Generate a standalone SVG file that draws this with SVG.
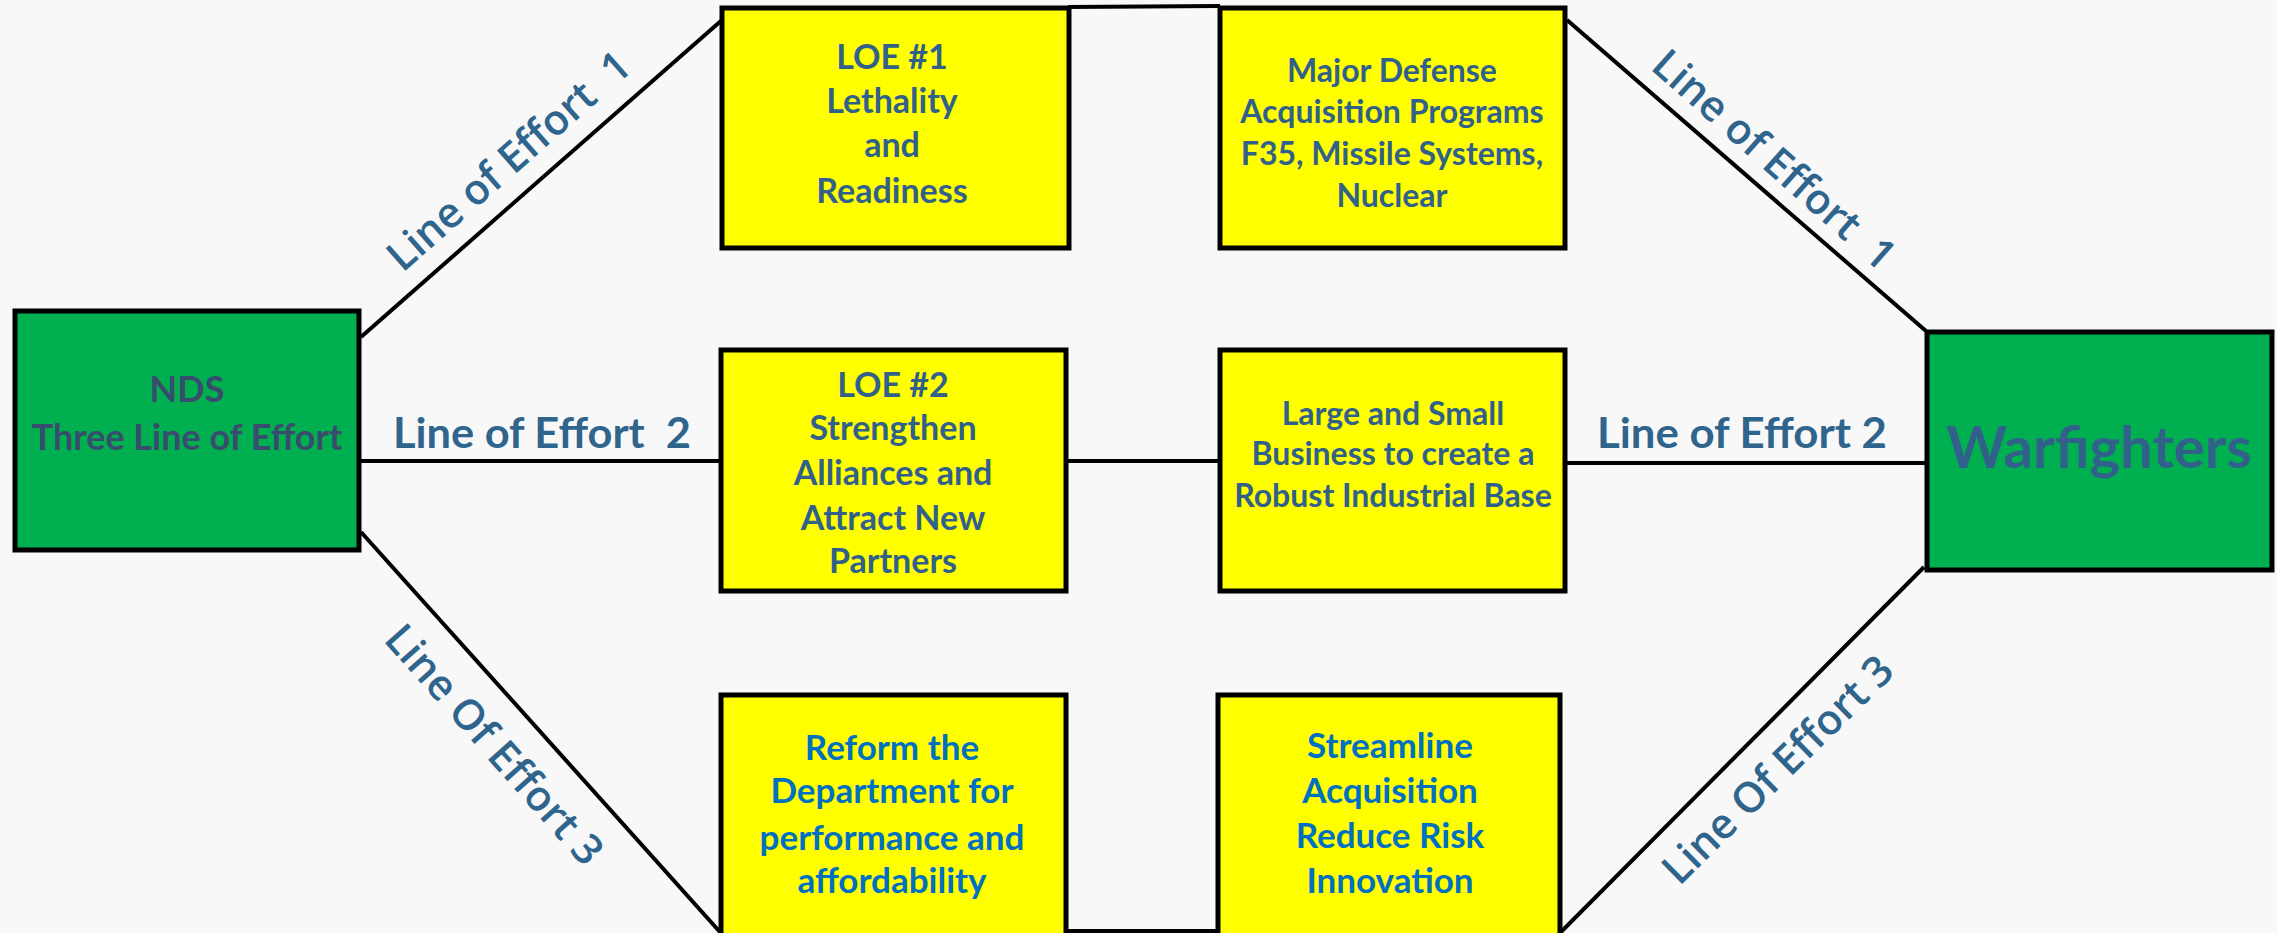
<svg xmlns="http://www.w3.org/2000/svg" width="2277" height="933" viewBox="0 0 2277 933">
<style>
.bg{fill:#F8F8F8}
.box{stroke:#000;stroke-width:5}
.g{fill:#00B050}
.y{fill:#FFFF00}
.t{font-family:Lato,"Liberation Sans",sans-serif;font-weight:700;text-anchor:middle}
.c1{fill:#31618A}
.c0{fill:#3A4C6E}
.c2{fill:#0070C0}
.lbl{font-family:"Open Sans","Liberation Sans",sans-serif;font-weight:600;font-size:42px;fill:#2F658C;text-anchor:middle}
.hl{font-family:Lato,"Liberation Sans",sans-serif;font-weight:700;font-size:42px;fill:#2F658C}
.con line{stroke:#000;stroke-width:4;fill:none}
</style>
<rect class="bg" x="0" y="0" width="2277" height="933"/>
<g id="connectors" class="con">
<line x1="361" y1="337" x2="722" y2="20"/>
<line x1="361" y1="461" x2="720" y2="461"/>
<line x1="361" y1="532" x2="720" y2="932"/>
<line x1="1068" y1="7" x2="1220" y2="6"/>
<line x1="1066" y1="461" x2="1220" y2="461"/>
<line x1="1066" y1="931" x2="1218" y2="931"/>
<line x1="1567" y1="20" x2="1926" y2="331"/>
<line x1="1565" y1="463" x2="1927" y2="463"/>
<line x1="1561" y1="932" x2="1924" y2="567"/>
</g>
<g id="labels">
<text class="lbl" xml:space="preserve" transform="translate(509,161) rotate(-41.3)" dy="14">Line of Effort  1</text>
<text class="lbl" xml:space="preserve" transform="translate(1774,160) rotate(41.5)" dy="14">Line of Effort  1</text>
<text class="lbl" transform="translate(494,745) rotate(48.5)" dy="14">Line Of Effort 3</text>
<text class="lbl" transform="translate(1778,770) rotate(-44.5)" dy="14">Line Of Effort 3</text>
<text class="hl" xml:space="preserve" x="393" y="448" textLength="298" lengthAdjust="spacingAndGlyphs">Line of Effort  2</text>
<text class="hl" x="1597" y="448" textLength="290" lengthAdjust="spacingAndGlyphs">Line of Effort 2</text>
</g>
<g id="nds">
<rect class="box g" x="15" y="311" width="344" height="239"/>
<text class="t c0" font-size="36"><tspan x="187" y="402">NDS</tspan><tspan x="187" y="450">Three Line of Effort</tspan></text>
</g>
<g id="loe1">
<rect class="box y" x="722" y="8" width="347" height="240"/>
<text class="t c1" font-size="34"><tspan x="892" y="69">LOE #1</tspan><tspan x="892" y="113">Lethality</tspan><tspan x="892" y="157">and</tspan><tspan x="892" y="203">Readiness</tspan></text>
</g>
<g id="mdap">
<rect class="box y" x="1220" y="8" width="345" height="240"/>
<text class="t c1" font-size="32"><tspan x="1392" y="82">Major Defense</tspan><tspan x="1392" y="123">Acquisition Programs</tspan><tspan x="1392" y="165">F35, Missile Systems,</tspan><tspan x="1392" y="207">Nuclear</tspan></text>
</g>
<g id="loe2">
<rect class="box y" x="721" y="350" width="345" height="241"/>
<text class="t c1" font-size="34"><tspan x="893" y="397">LOE #2</tspan><tspan x="893" y="440">Strengthen</tspan><tspan x="893" y="485">Alliances and</tspan><tspan x="893" y="530">Attract New</tspan><tspan x="893" y="573">Partners</tspan></text>
</g>
<g id="industrial">
<rect class="box y" x="1220" y="350" width="345" height="241"/>
<text class="t c1" font-size="32"><tspan x="1393" y="425">Large and Small</tspan><tspan x="1393" y="465">Business to create a</tspan><tspan x="1393" y="507">Robust Industrial Base</tspan></text>
</g>
<g id="reform">
<rect class="box y" x="721" y="695" width="345" height="250"/>
<text class="t c2" font-size="35"><tspan x="892" y="760">Reform the</tspan><tspan x="892" y="803">Department for</tspan><tspan x="892" y="850">performance and</tspan><tspan x="892" y="893">affordability</tspan></text>
</g>
<g id="streamline">
<rect class="box y" x="1218" y="695" width="342" height="250"/>
<text class="t c2" font-size="35"><tspan x="1390" y="758">Streamline</tspan><tspan x="1390" y="803">Acquisition</tspan><tspan x="1390" y="848">Reduce Risk</tspan><tspan x="1390" y="893">Innovation</tspan></text>
</g>
<g id="warfighters">
<rect class="box g" x="1927" y="332" width="345" height="238"/>
<text class="t c1" font-size="58" x="2099" y="468">Warfighters</text>
</g>
</svg>
